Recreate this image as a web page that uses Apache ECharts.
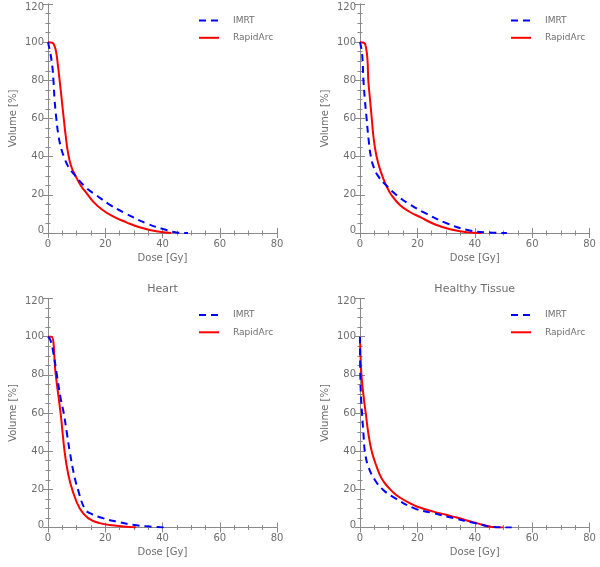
<!DOCTYPE html>
<html>
<head>
<meta charset="utf-8">
<script src="https://cdn.jsdelivr.net/npm/echarts@6/dist/echarts.min.js"></script>
<style>html,body{margin:0;padding:0;background:#fff}#c{width:600px;height:567px}</style>
</head>
<body>
<div id="c"></div>
<script>
// ---- Data (dose [Gy], volume [%]) ----
const panelTitles = ['Ipsilateral Lung', 'Contralateral Lung', 'Heart', 'Healthy Tissue'];
const seriesNames = ['IMRT', 'RapidArc'];
const xTicks = [0, 20, 40, 60, 80];
const yTicks = [0, 20, 40, 60, 80, 100, 120];

const lung1IMRT = [[0,100],[0.8,94.4],[1.5,87.4],[1.9,80.1],[2.3,69.9],[2.9,60],[3.7,50.7],[4.7,43.7],[5.6,39.9],[7.0,35],[9.7,29.7],[13.4,23.6],[16.9,19.8],[21.5,14.9],[27.4,10],[34.3,5.1],[40.2,2.1],[44.8,0.3],[48.9,0]];
const lung1RA = [[0,100],[1.5,99.7],[2.3,97.9],[2.9,94.4],[3.5,87.4],[4.1,79.5],[4.8,69.9],[5.5,60],[6.2,50.7],[7.0,42],[8.1,35],[9.7,29.7],[11.6,24.5],[13.4,21],[15.7,16.6],[18.6,12.6],[22.7,8.7],[27.4,5.6],[32,3],[37.8,0.9],[43.1,0]];

const lung2IMRT = [[0,100],[0.7,94.4],[1.2,80],[1.7,69.9],[2.3,60],[3.0,49],[3.8,40],[4.9,34],[6.4,29.7],[9.1,25],[12.8,19.8],[17.4,14.9],[23.3,10],[30.2,5.1],[37.2,1.7],[44.2,0.3],[51.2,0]];
const lung2RA = [[0,100],[1.4,99.7],[2.1,97],[2.6,90.9],[2.9,80],[3.5,69.9],[4.1,60],[4.8,49],[5.8,40],[7.2,32.3],[9.1,25],[11,19.8],[14,14.5],[17.4,11],[21,8.3],[26,4.6],[31.4,2],[37.2,0.4],[42.4,0]];

const heartIMRT = [[0,100],[0.8,98.3],[1.7,93],[3.1,80],[4.3,68.6],[5.5,59.9],[6.6,49.4],[7.6,39.8],[9,28.4],[10.5,19.7],[12.8,9.9],[14.6,7.5],[19.2,4.9],[23.9,3.1],[29.7,1.4],[35.5,0.5],[40.7,0]];
const heartRA = [[0,100],[1.2,100],[2.7,80],[4.4,59.9],[5.8,39.8],[7,28.4],[8.5,19.7],[11.1,9.9],[14,4.9],[18,2.3],[23.9,0.9],[30.8,0]];

const tissueIMRT = [[0,100],[0.1,80],[0.35,68.6],[0.7,59.9],[1.2,49.4],[1.7,39.8],[2.9,31.9],[5.2,24.9],[8.1,19.7],[12.2,15.4],[19.2,9.9],[25.6,7.5],[32.6,4.9],[40.1,2.3],[46.5,0.3],[52.9,0]];
const tissueRA = [[0,100],[0.2,89.5],[0.5,80],[1.2,69.4],[2,59.9],[2.9,49.4],[4.1,39.8],[5.8,31.9],[7.6,25.5],[9.9,21],[12,17.8],[14,15.6],[17,13],[19.8,11],[25.6,8.3],[30,6.7],[33.7,5.2],[40.7,2.3],[46,0.3],[50,0]];

const panelData = [[lung1IMRT, lung1RA],[lung2IMRT, lung2RA],[heartIMRT, heartRA],[tissueIMRT, tissueRA]];

// ---- Layout / style ----
const FONT = 'DejaVu Sans';
const TXT = '#6e6e6e';
const AX = '#8a8a8a';
const grids = [
  {left: 48, top: 4, width: 229, height: 229},
  {left: 360, top: 4, width: 229.5, height: 229},
  {left: 48, top: 298.5, width: 229, height: 229},
  {left: 360, top: 298.5, width: 229.5, height: 229}
];
const colors = ['#0000ff', '#ff0000'];
const lineTypes = [[7,5], 'solid'];
const yMin = yTicks[0], yMax = yTicks[yTicks.length-1];

const xAxes = [], yAxes = [], series = [], legends = [], graphics = [];
grids.forEach((g, i) => {
  const common = {
    axisLine: {show: true, lineStyle: {color: AX, width: 1}},
    axisTick: {show: true, inside: true, length: 5, lineStyle: {color: AX}},
    minorTick: {show: true, splitNumber: 4, length: 2.5, lineStyle: {color: AX}},
    splitLine: {show: false}
  };
  xAxes.push(Object.assign({}, common, {
    type: 'value', gridIndex: i, position: 'bottom', min: xTicks[0], max: xTicks[xTicks.length-1],
    interval: xTicks[1]-xTicks[0],
    axisLabel: {color: TXT, fontFamily: FONT, fontSize: 10, margin: 6},
    name: 'Dose [Gy]', nameLocation: 'middle', nameGap: 20,
    nameTextStyle: {color: TXT, fontFamily: FONT, fontSize: 10}
  }));
  xAxes.push(Object.assign({}, common, {
    type: 'value', gridIndex: i, position: 'top', min: xTicks[0], max: xTicks[xTicks.length-1],
    interval: xTicks[1]-xTicks[0], axisLabel: {show: false}
  }));
  yAxes.push(Object.assign({}, common, {
    type: 'value', gridIndex: i, position: 'left', min: yMin, max: yMax,
    interval: yTicks[1]-yTicks[0],
    axisLabel: {
      color: TXT, fontFamily: FONT, fontSize: 10, margin: 4,
      formatter: v => v === yMax ? '{t|' + v + '}' : (v === yMin ? '{b|' + v + '}' : String(v)),
      rich: {
        t: {color: TXT, fontFamily: FONT, fontSize: 10, padding: [6,0,0,0]},
        b: {color: TXT, fontFamily: FONT, fontSize: 10, padding: [0,0,5,0]}
      }
    },
    name: 'Volume [%]', nameLocation: 'middle', nameGap: 30,
    nameTextStyle: {color: TXT, fontFamily: FONT, fontSize: 10}
  }));
  yAxes.push(Object.assign({}, common, {
    type: 'value', gridIndex: i, position: 'right', min: yMin, max: yMax,
    interval: yTicks[1]-yTicks[0], axisLabel: {show: false}
  }));
  panelData[i].forEach((d, k) => {
    series.push({
      type: 'line', name: seriesNames[k], xAxisIndex: i*2, yAxisIndex: i*2,
      data: d, showSymbol: false, symbol: 'none', smooth: 0.45,
      lineStyle: {color: colors[k], width: 2, type: lineTypes[k]},
      itemStyle: {color: colors[k]}, z: k === 0 ? 3 : 2
    });
  });
  legends.push({
    data: seriesNames, orient: 'vertical', left: g.left + 150, top: g.top + 11,
    padding: 0, itemWidth: 20, itemHeight: 14, itemGap: 6,
    itemStyle: {opacity: 0},
    textStyle: {color: TXT, fontFamily: FONT, fontSize: 9, padding: [0,0,0,9]},
    selectedMode: false
  });
  graphics.push({
    type: 'text', x: g.left + g.width/2, y: g.top - 9.5,
    style: {text: panelTitles[i], fill: TXT, font: '11px "' + FONT + '"', textAlign: 'center', textVerticalAlign: 'middle'}
  });
});

const chart = echarts.init(document.getElementById('c'), null, {renderer: 'canvas'});
chart.setOption({
  animation: false,
  backgroundColor: '#ffffff',
  grid: grids,
  xAxis: xAxes,
  yAxis: yAxes,
  legend: legends,
  series: series,
  graphic: graphics
});
</script>
</body>
</html>
